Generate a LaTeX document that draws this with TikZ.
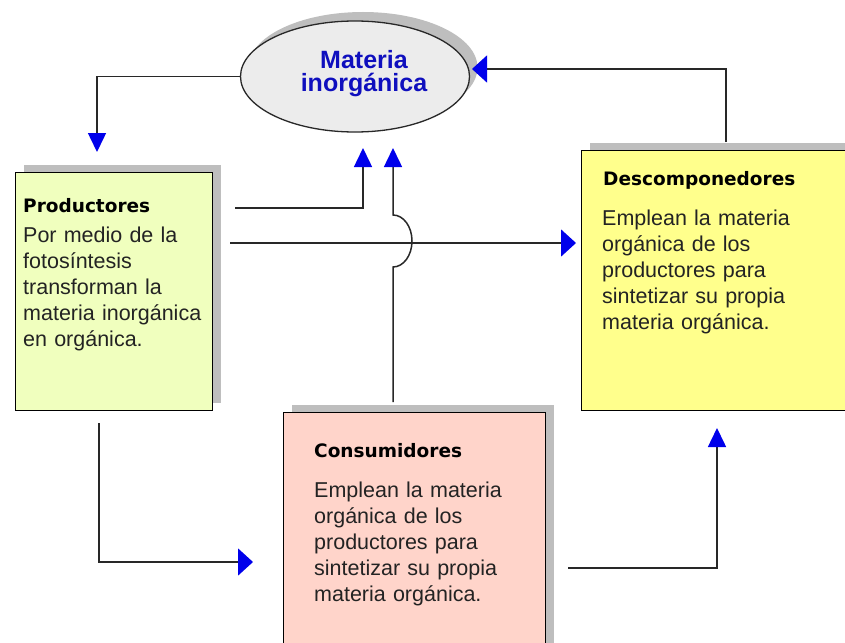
\documentclass[tikz,border=0pt]{standalone}
\usepackage{fontspec}
\setmainfont{Liberation Sans}
\newfontfamily\titlefam{DejaVu Sans}
\usetikzlibrary{arrows.meta,shadows,shapes.geometric}
\definecolor{prodfill}{RGB}{240,255,190}
\definecolor{descfill}{RGB}{255,255,140}
\definecolor{consfill}{RGB}{255,212,202}
\definecolor{ellfill}{RGB}{236,236,236}
\definecolor{shadowgray}{RGB}{190,190,190}
\definecolor{arrowblue}{RGB}{0,0,235}
\definecolor{textblue}{RGB}{15,15,190}
\definecolor{linegray}{RGB}{40,40,40}
\definecolor{bodygray}{RGB}{35,35,35}
\begin{document}
\begin{tikzpicture}[x=1pt,y=-1pt,
  box/.style={draw=black,line width=1.2pt,rectangle,inner sep=0pt,anchor=north west,
    general shadow={shadow xshift=8pt,shadow yshift=8pt,fill=shadowgray}},
  conn/.style={draw=linegray,line width=1.5pt},
  upar/.style={-{Triangle[length=19pt,width=18pt,color=arrowblue]}},
  sidear/.style={-{Triangle[length=15pt,width=27pt,color=arrowblue]}},
  titlet/.style={font=\titlefam\bfseries\fontsize{18.5}{22}\selectfont,anchor=base west,inner sep=0pt,text=black},
  bodyt/.style={font=\fontsize{21.5}{26}\selectfont,anchor=base west,inner sep=0pt,align=left,text width=250pt,text=bodygray}]
\clip (0,0) rectangle (845,642);
\fill[white] (0,0) rectangle (845,642);

% shapes
\node[ellipse,draw=linegray,line width=1.3pt,fill=ellfill,minimum width=229pt,minimum height=111pt,inner sep=0pt,
  general shadow={shadow xshift=8pt,shadow yshift=9pt,fill=shadowgray}] (mat) at (355,76.5) {};
\node[font=\bfseries\fontsize{25}{23}\selectfont,text=textblue,align=center,inner sep=0pt] (mattxt) at (364,74) {Materia\\inorgánica};

\node[box,fill=prodfill,minimum width=197pt,minimum height=238pt] (prod) at (15,172) {};
\node[box,fill=descfill,minimum width=279pt,minimum height=260pt] (desc) at (581,150) {};
\node[box,fill=consfill,minimum width=262pt,minimum height=248pt] (cons) at (283,412) {};

% texts
\node[titlet] (prodtit) at (23,212) {Productores};
\node[bodyt] (prodbody) at (23,242) {Por medio de la\\fotosíntesis\\transforman la\\materia inorgánica\\en orgánica.};
\node[titlet] (desctit) at (603,185) {Descomponedores};
\node[bodyt] (descbody) at (602,225) {Emplean la materia\\orgánica de los\\productores para\\sintetizar su propia\\materia orgánica.};
\node[titlet] (constit) at (314,457) {Consumidores};
\node[bodyt] (consbody) at (314,497) {Emplean la materia\\orgánica de los\\productores para\\sintetizar su propia\\materia orgánica.};

% connector end points
\coordinate (pin) at (97,152);
\coordinate (pout1) at (235,208);
\coordinate (min1) at (363,148);
\coordinate (cout1) at (393,402);
\coordinate (min2) at (393,148);
\coordinate (pout2) at (230,243);
\coordinate (din1) at (576,243);
\coordinate (dout) at (726,142);
\coordinate (min3) at (472,69);
\coordinate (pout3) at (99,423);
\coordinate (cin) at (253,562);
\coordinate (cout2) at (568,568);
\coordinate (din2) at (717,428);

% connectors
\draw[conn,upar] (mat.west) -| (pin);
\draw[conn,upar] (pout1) -| (min1);
\draw[conn,sidear] (pout2) -- (din1);
\draw[conn,upar] (cout1) -- (393,267) .. controls (403.5,267) and (412,255.4) .. (412,241)
  .. controls (412,226.6) and (403.5,215) .. (393,215) -- (min2);
\draw[conn,sidear] (dout) |- (min3);
\draw[conn,sidear] (pout3) |- (cin);
\draw[conn,upar] (cout2) -| (din2);
\end{tikzpicture}
\end{document}
